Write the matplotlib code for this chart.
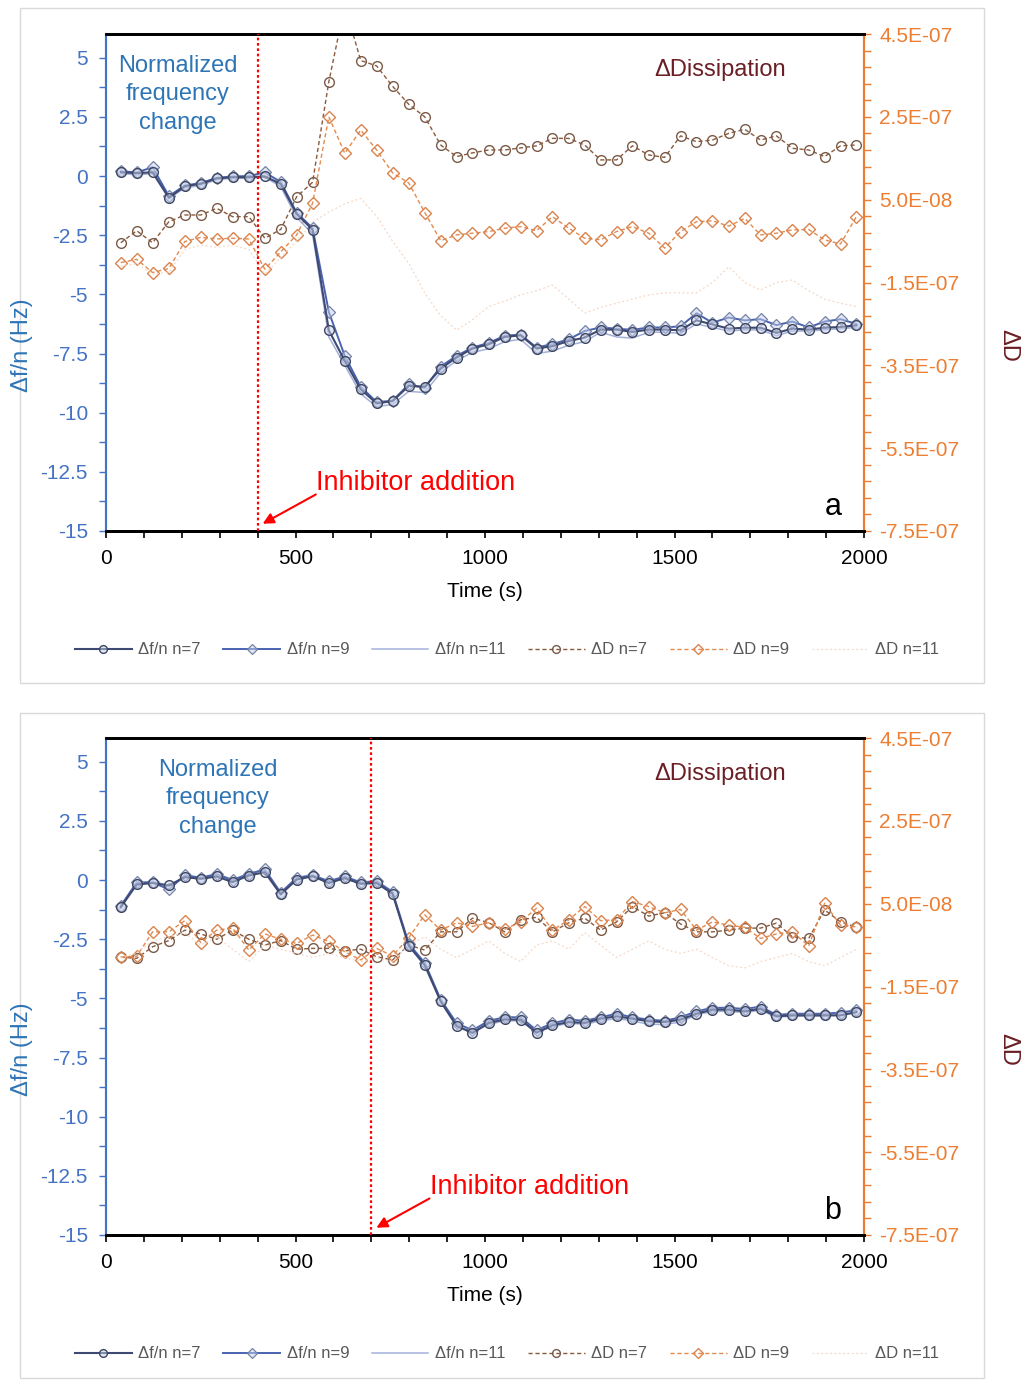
import numpy as np
import matplotlib
matplotlib.use('Agg')
import matplotlib.pyplot as plt
from matplotlib.ticker import FixedLocator, MultipleLocator, FuncFormatter
from matplotlib.patches import Rectangle

plt.rcParams['font.family'] = ['Liberation Sans', 'DejaVu Sans']
plt.rcParams['axes.unicode_minus'] = False

# time points (s)
time_s = [39, 81, 123, 166, 208, 250, 292, 334, 377, 419, 461, 503, 545, 588, 630, 672,
          714, 756, 799, 841, 883, 925, 967, 1010, 1052, 1094, 1136, 1178, 1221, 1263,
          1305, 1347, 1389, 1432, 1474, 1516, 1558, 1600, 1643, 1685, 1727, 1769, 1811,
          1854, 1896, 1938, 1980]

# panel a: frequency (Hz)
a_df7 = [0.16, 0.12, 0.16, -0.92, -0.43, -0.33, -0.10, -0.05, -0.05, -0.02,
         -0.33, -1.60, -2.27, -6.52, -7.81, -9.01, -9.61, -9.51, -8.87, -8.91,
         -8.14, -7.67, -7.29, -7.11, -6.80, -6.73, -7.29, -7.19, -6.97, -6.83,
         -6.49, -6.49, -6.59, -6.49, -6.49, -6.52, -6.10, -6.27, -6.45, -6.41,
         -6.41, -6.63, -6.45, -6.49, -6.41, -6.38, -6.31]
a_df9 = [0.20, 0.15, 0.37, -0.85, -0.40, -0.30, -0.08, -0.02, 0.00, 0.15,
         -0.25, -1.55, -2.20, -5.75, -7.60, -8.90, -9.55, -9.50, -8.80, -8.95,
         -8.05, -7.60, -7.25, -7.05, -6.75, -6.70, -7.25, -7.10, -6.90, -6.55,
         -6.40, -6.45, -6.50, -6.40, -6.40, -6.35, -5.80, -6.20, -5.98, -6.10,
         -6.05, -6.30, -6.15, -6.40, -6.15, -6.05, -6.25]
a_df11 = [0.10, 0.05, 0.10, -0.95, -0.50, -0.40, -0.15, -0.10, -0.10, -0.05,
          -0.45, -1.75, -2.45, -6.80, -8.00, -9.20, -9.75, -9.65, -9.10, -9.15,
          -8.30, -7.80, -7.45, -7.30, -7.00, -6.90, -7.50, -7.40, -7.15, -7.00,
          -6.60, -6.80, -6.85, -6.60, -6.60, -6.65, -6.25, -6.40, -6.55, -6.50,
          -6.50, -6.75, -6.55, -6.55, -6.50, -6.45, -6.40]
# panel a: dissipation (x1e-7)
a_D7 = [-0.54, -0.25, -0.54, -0.03, 0.13, 0.13, 0.29, 0.09, 0.09, -0.43,
        -0.22, 0.57, 0.92, 3.35, 5.20, 3.86, 3.73, 3.24, 2.80, 2.50,
        1.82, 1.54, 1.63, 1.70, 1.70, 1.75, 1.80, 1.98, 1.98, 1.82,
        1.46, 1.46, 1.80, 1.58, 1.52, 2.04, 1.90, 1.94, 2.10, 2.20,
        1.94, 2.04, 1.74, 1.70, 1.54, 1.80, 1.82]
a_D9 = [-1.02, -0.94, -1.26, -1.16, -0.51, -0.41, -0.45, -0.43, -0.45, -1.18,
        -0.76, -0.35, 0.41, 2.50, 1.62, 2.18, 1.70, 1.15, 0.90, 0.19,
        -0.49, -0.35, -0.31, -0.27, -0.19, -0.15, -0.25, 0.09, -0.19, -0.43,
        -0.47, -0.27, -0.15, -0.31, -0.67, -0.27, -0.03, -0.01, -0.14, 0.05,
        -0.35, -0.31, -0.23, -0.22, -0.47, -0.57, 0.09]
a_D11 = [-1.10, -1.05, -1.30, -1.25, -0.70, -0.60, -0.65, -0.60, -0.70, -1.30,
         -0.90, -0.50, -0.05, 0.20, 0.40, 0.53, 0.10, -0.50, -1.04, -1.75,
         -2.30, -2.65, -2.40, -2.08, -1.95, -1.80, -1.70, -1.56, -1.90, -2.24,
         -2.10, -2.00, -1.90, -1.80, -1.75, -1.75, -1.75, -1.50, -1.12, -1.50,
         -1.68, -1.50, -1.44, -1.70, -1.90, -2.00, -2.08]

# panel b: frequency (Hz)
b_df7 = [-1.15, -0.19, -0.13, -0.23, 0.12, 0.05, 0.15, -0.09, 0.19, 0.33,
         -0.61, 0.02, 0.16, -0.13, 0.08, -0.16, -0.13, -0.58, -2.78, -3.60,
         -5.13, -6.17, -6.46, -6.04, -5.89, -5.90, -6.45, -6.14, -6.00, -6.04,
         -5.86, -5.76, -5.86, -5.97, -6.00, -5.90, -5.65, -5.48, -5.48, -5.55,
         -5.44, -5.76, -5.72, -5.72, -5.72, -5.72, -5.58]
b_df9 = [-1.10, -0.10, -0.10, -0.40, 0.20, 0.10, 0.25, 0.00, 0.25, 0.45,
         -0.55, 0.10, 0.20, -0.05, 0.15, -0.10, -0.05, -0.50, -2.70, -3.50,
         -5.05, -6.05, -6.35, -5.95, -5.80, -5.80, -6.35, -6.05, -5.90, -5.95,
         -5.80, -5.65, -5.80, -5.90, -5.95, -5.80, -5.55, -5.40, -5.40, -5.45,
         -5.35, -5.70, -5.65, -5.65, -5.65, -5.60, -5.50]
b_df11 = [-1.05, -0.15, -0.05, -0.25, 0.15, 0.10, 0.20, 0.00, 0.30, 0.40,
          -0.50, 0.05, 0.15, -0.05, 0.05, -0.15, -0.10, -0.55, -2.75, -3.55,
          -5.10, -6.15, -6.45, -6.10, -5.95, -5.95, -6.45, -6.20, -6.05, -6.10,
          -5.95, -5.85, -5.95, -6.10, -6.10, -6.00, -5.70, -5.55, -5.55, -5.60,
          -5.50, -5.80, -5.75, -5.75, -5.75, -5.70, -5.60]
# panel b: dissipation (x1e-7)
b_D7 = [-0.79, -0.82, -0.54, -0.39, -0.14, -0.23, -0.36, -0.14, -0.36, -0.50,
        -0.39, -0.60, -0.58, -0.58, -0.64, -0.60, -0.78, -0.86, -0.50, -0.62,
        -0.18, -0.18, 0.15, 0.04, -0.18, 0.11, 0.17, -0.18, 0.04, 0.15,
        -0.14, 0.06, 0.43, 0.20, 0.28, 0.01, -0.18, -0.18, -0.14, -0.09,
        -0.09, 0.03, -0.30, -0.34, 0.35, 0.06, -0.07]
b_D9 = [-0.79, -0.77, -0.18, -0.18, 0.09, -0.44, -0.14, -0.09, -0.62, -0.23,
        -0.36, -0.46, -0.26, -0.41, -0.66, -0.86, -0.58, -0.76, -0.32, 0.23,
        -0.14, 0.04, -0.05, 0.04, -0.12, 0.06, 0.39, -0.14, 0.11, 0.43,
        0.09, 0.11, 0.55, 0.43, 0.28, 0.36, -0.14, 0.06, -0.02, -0.07,
        -0.34, -0.23, -0.18, -0.52, 0.51, -0.02, -0.06]
b_D11 = [-0.80, -0.70, -0.40, -0.30, -0.20, -0.50, -0.30, -0.60, -0.90, -0.50,
         -0.60, -0.70, -0.80, -0.70, -0.80, -0.90, -0.80, -0.90, -0.50, -0.30,
         -0.60, -0.80, -0.60, -0.40, -0.70, -0.90, -0.50, -0.40, -0.60, -0.20,
         -0.50, -0.80, -0.60, -0.40, -0.60, -0.70, -0.60, -0.80, -1.00, -1.05,
         -0.90, -0.80, -0.70, -0.90, -1.00, -0.80, -0.60]

labels = ['Δf/n n=7', 'Δf/n n=9', 'Δf/n n=11', 'ΔD n=7', 'ΔD n=9', 'ΔD n=11']

BLUE_TXT = '#2E75B6'
BLUE_AX = '#4472C4'
ORANGE = '#ED7D31'
MAROON = '#6B1F24'
W, H = 1023, 1380


def fx(px):
    return px / W


def fy(py):
    return 1 - py / H


def panel(fig, top_px, df7, df9, df11, d7, d9, d11, t_add, note_x, letter, leg_y):
    ax = fig.add_axes([fx(106), fy(top_px + 497), fx(758), 497 / H])
    ax2 = ax.twinx()
    ax.set_zorder(2)
    ax.patch.set_visible(False)

    d_scale = 1e-7
    l4, = ax2.plot(time_s, np.array(d7) * d_scale, ls=(0, (3, 2)), lw=1.0, color='#8C5A3C',
                   marker='o', ms=7, mfc='none', mec='#7A5A48', mew=1.0)
    l5, = ax2.plot(time_s, np.array(d9) * d_scale, ls=(0, (3, 2)), lw=1.0, color='#E58A4E',
                   marker='D', ms=6, mfc='none', mec='#D9844E', mew=1.0)
    l6, = ax2.plot(time_s, np.array(d11) * d_scale, ls=(0, (1.5, 2)), lw=0.9, color='#F6D8C4')

    fill = (0.78, 0.82, 0.92, 0.5)
    l3, = ax.plot(time_s, df11, lw=1.1, color='#A3B0DA')
    l2, = ax.plot(time_s, df9, lw=1.4, color='#4A63B0', marker='D', ms=6.5, mfc=fill,
                  mec='#7483A8', mew=0.9)
    l1, = ax.plot(time_s, df7, lw=1.5, color='#3E4A72', marker='o', ms=7, mfc=fill,
                  mec='#3E4660', mew=1.0)

    ax.set_xlim(0, 2000)
    ax.set_ylim(-15, 6)
    ax2.set_ylim(-7.5e-7, 4.5e-7)

    ax.xaxis.set_major_locator(MultipleLocator(500))
    ax.xaxis.set_minor_locator(MultipleLocator(100))
    ax.yaxis.set_major_locator(FixedLocator([-15, -12.5, -10, -7.5, -5, -2.5, 0, 2.5, 5]))
    ax.yaxis.set_minor_locator(FixedLocator(np.arange(-15, 5.1, 1.25)))
    ax.yaxis.set_major_formatter(FuncFormatter(lambda v, p: '%g' % v))
    ax2.yaxis.set_major_locator(FixedLocator(np.arange(-7.5e-7, 4.6e-7, 2e-7)))
    ax2.yaxis.set_minor_locator(FixedLocator(np.arange(-7.5e-7, 4.6e-7, 4e-8)))
    ax2.yaxis.set_major_formatter(FuncFormatter(lambda v, p: '%.1E' % v))

    ax.tick_params(axis='x', which='both', direction='out', length=5, width=1.2,
                   colors='black', labelsize=15, pad=8)
    ax.tick_params(axis='y', which='both', direction='out', length=5, width=1,
                   colors=BLUE_AX, labelsize=15, pad=8)
    ax2.tick_params(axis='y', which='both', direction='out', length=5, width=1,
                    colors=ORANGE, labelsize=15, pad=6)

    for a in (ax, ax2):
        a.spines['top'].set_color('black')
        a.spines['top'].set_linewidth(2)
        a.spines['bottom'].set_color('black')
        a.spines['bottom'].set_linewidth(2)
        a.spines['left'].set_color(BLUE_AX)
        a.spines['left'].set_linewidth(1.5)
        a.spines['right'].set_color(ORANGE)
        a.spines['right'].set_linewidth(1.5)

    ax.axvline(t_add, color='red', ls=(0, (1.2, 1.2)), lw=1.6, zorder=5)

    ax.text(-0.111, 0.374, 'Δf/n (Hz)', transform=ax.transAxes, rotation=90,
            ha='center', va='center', fontsize=17, color=BLUE_TXT)
    ax.text(1.19, 0.374, 'ΔD', transform=ax.transAxes, rotation=-90,
            ha='center', va='center', fontsize=17, color=MAROON)
    ax.text(0.5, -0.102, 'Time (s)', transform=ax.transAxes, ha='center', va='top',
            fontsize=15)

    ax.text(note_x, 3.45, 'Normalized\nfrequency\nchange', ha='center', va='center',
            fontsize=17, color=BLUE_TXT, linespacing=1.38)
    ax.text(1620, 4.49, 'ΔDissipation', ha='center', va='center', fontsize=17,
            color=MAROON)
    ax.text(t_add + 155, -12.97, 'Inhibitor addition', ha='left', va='center',
            fontsize=19.5, color='red')
    ax.annotate('', xy=(t_add + 7, -14.75), xytext=(t_add + 160, -13.4),
                arrowprops=dict(arrowstyle='-|>', color='red', lw=1.5, mutation_scale=16))
    ax.text(1918, -14.0, letter, ha='center', va='center', fontsize=22)

    fig.legend([l1, l2, l3, l4, l5, l6], labels, loc='center',
               bbox_to_anchor=(fx(507), fy(leg_y)), ncol=6, frameon=False,
               fontsize=12, handlelength=3.4, columnspacing=1.35, handletextpad=0.4,
               labelcolor='#595959', markerscale=0.8)


fig = plt.figure(figsize=(W / 100, H / 100), dpi=100)
fig.patches.append(Rectangle((fx(20), fy(683)), fx(964), (683 - 8) / H,
                             transform=fig.transFigure, fill=False, ec='#D9D9D9', lw=1))
fig.patches.append(Rectangle((fx(20), fy(1378)), fx(964), (1378 - 713) / H,
                             transform=fig.transFigure, fill=False, ec='#D9D9D9', lw=1))

panel(fig, 34, a_df7, a_df9, a_df11, a_D7, a_D9, a_D11, 400, 190, 'a', 650)
panel(fig, 738, b_df7, b_df9, b_df11, b_D7, b_D9, b_D11, 700, 295, 'b', 1354)

fig.savefig('out.png', dpi=100)
